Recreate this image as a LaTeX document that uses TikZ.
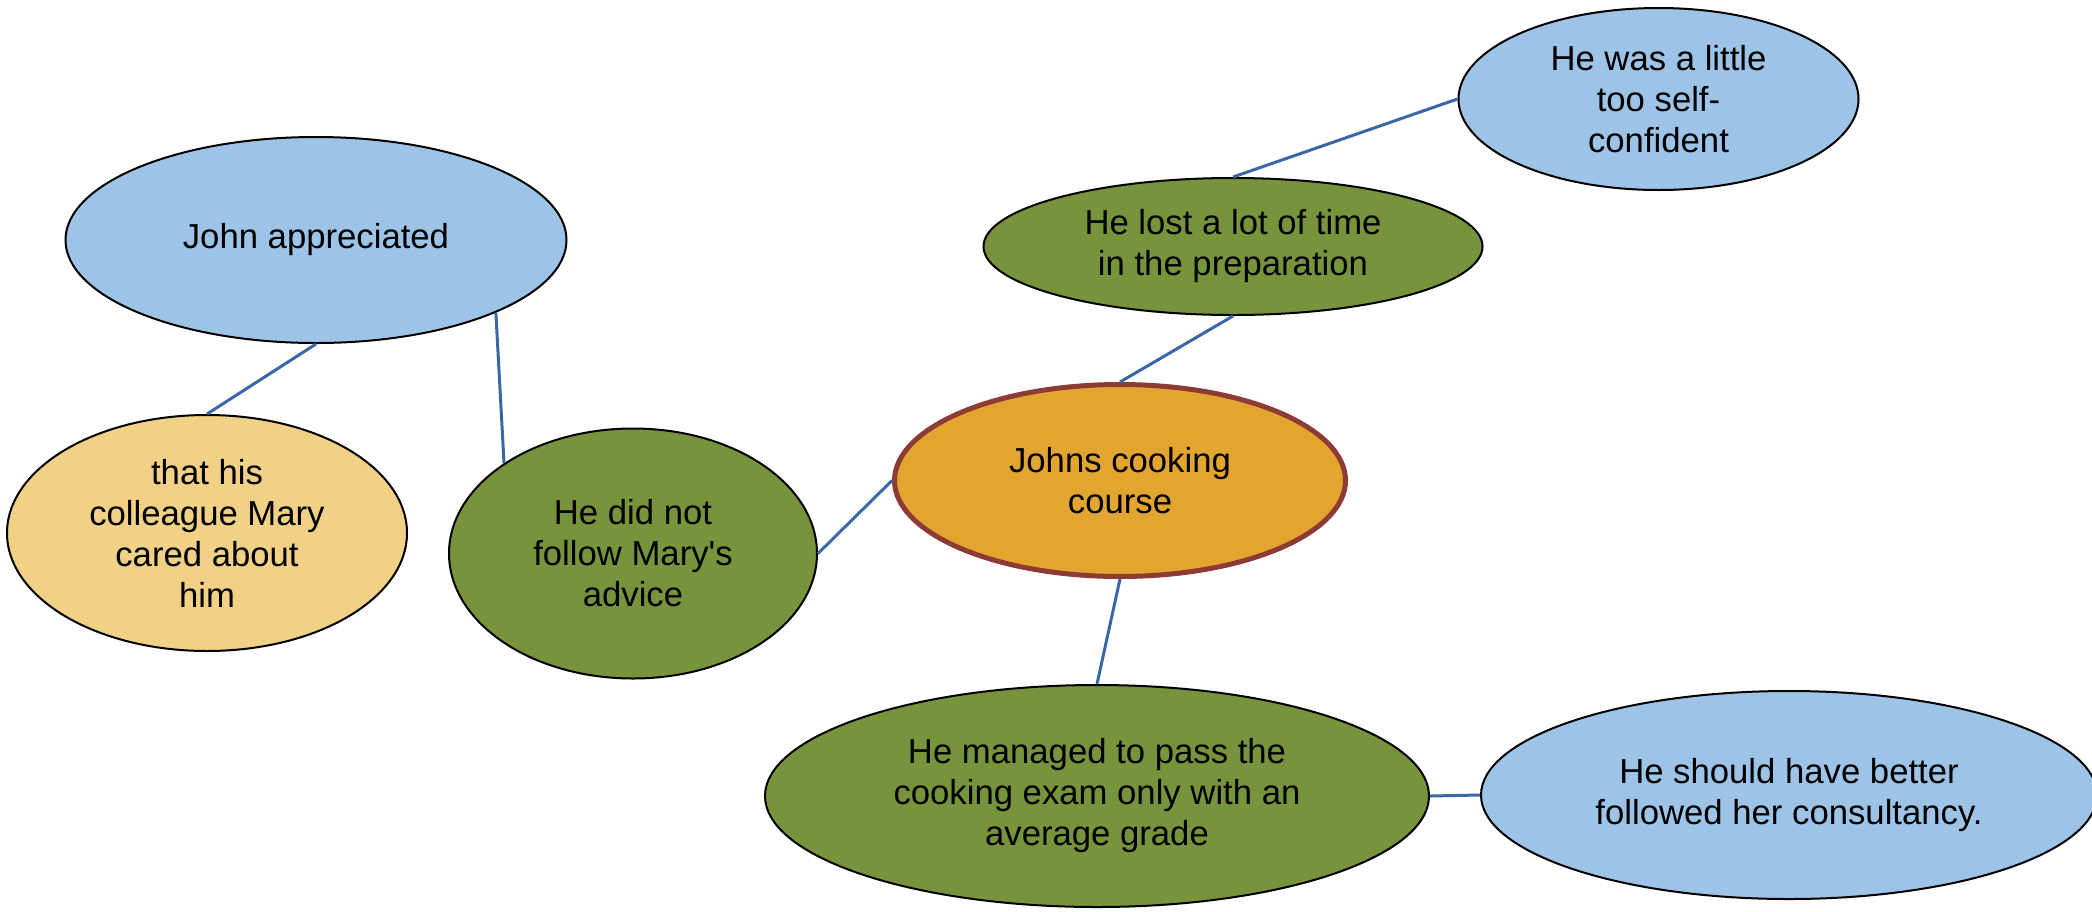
\documentclass[tikz,border=0pt]{standalone}
\usepackage{fontspec}
\setmainfont{Liberation Sans}[Ligatures=TeXOff]
\usetikzlibrary{shapes.geometric}
\definecolor{lblue}{HTML}{9DC3E6}
\definecolor{lyellow}{HTML}{F1D185}
\definecolor{olive}{HTML}{77933C}
\definecolor{orangeF}{HTML}{E2A530}
\definecolor{brownB}{HTML}{8E3B36}
\definecolor{conn}{HTML}{3B67A7}
\tikzset{
  bub/.style={ellipse, draw=black, line width=2pt, inner sep=0pt, align=center,
    font=\fontsize{34.7}{41}\selectfont, text=black},
  bblue/.style={bub, fill=lblue},
  bgreen/.style={bub, fill=olive},
  byellow/.style={bub, fill=lyellow},
  bmain/.style={bub, fill=orangeF, draw=brownB, line width=5pt},
  link/.style={draw=conn, line width=3pt},
}
\begin{document}
\begin{tikzpicture}[x=1pt,y=-1pt]
\useasboundingbox (0,0) rectangle (2092,911);
\fill[white] (0,0) rectangle (2092,911);
\node[bblue, minimum width=400pt, minimum height=182pt] (sc) at (1658.5,99) {He was a little\\too self-\\confident};
\node[bgreen, minimum width=499pt, minimum height=137pt] (lost) at (1233,246.5) {He lost a lot of time\\in the preparation};
\node[bblue, minimum width=501pt, minimum height=206pt] (ja) at (316,240) {John appreciated};
\node[byellow, minimum width=400pt, minimum height=236pt] (th) at (207,533) {that his\\colleague Mary\\cared about\\him};
\node[bgreen, minimum width=368pt, minimum height=250pt] (dn) at (633,553.5) {He did not\\follow Mary's\\advice};
\node[bmain, minimum width=451pt, minimum height=192pt] (jc) at (1120,480.5) {Johns cooking\\course};
\node[bgreen, minimum width=664pt, minimum height=222pt] (mg) at (1097,796) {He managed to pass the\\cooking exam only with an\\average grade};
\node[bblue, minimum width=616pt, minimum height=208pt] (sh) at (1789,795) {He should have better\\followed her consultancy.};
\draw[link] (lost.north) -- (sc.west);
\draw[link] (jc.north) -- (lost.south);
\draw[link] (jc.west) -- (dn.east);
\draw[link] (jc.south) -- (mg.north);
\draw[link] (mg.east) -- (sh.west);
\draw[link] (ja.south) -- (th.north);
\draw[link] (ja.-22.8) -- (dn.145);
\end{tikzpicture}
\end{document}
